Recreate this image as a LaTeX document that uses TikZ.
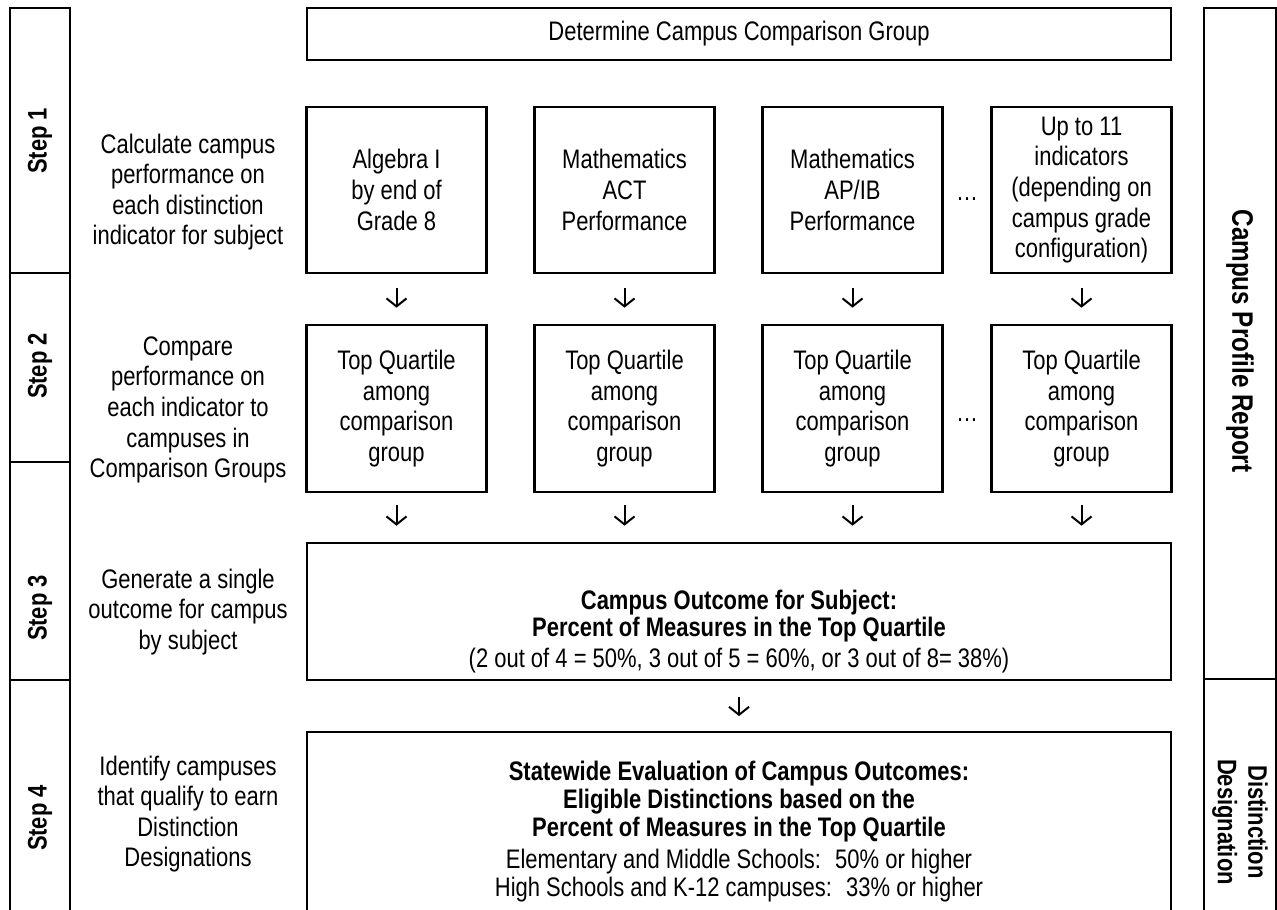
\documentclass[tikz,border=0pt]{standalone}
\usepackage{fontspec}
\setmainfont{Liberation Sans}[FakeStretch=0.82]
\usetikzlibrary{arrows.meta}

\begin{document}
\fontsize{13.4pt}{15.3pt}\selectfont
\begin{tikzpicture}[x=0.5pt,y=-0.5pt,
    box/.style={draw,line width=1.3pt,align=center,inner sep=0pt},
    desc/.style={align=center},
    steplbl/.style={font=\bfseries,rotate=90},
    sidelbl/.style={font=\bfseries,rotate=-90,align=center},
    down/.style={-{Straight Barb[length=4pt,width=10pt]},line width=1pt}]
    \clip (0,0) rectangle (1277,909);

    % columnas laterales
    \draw[line width=1.3pt] (10,8) rectangle (70,960) (10,273) -- (70,273) (10,462) -- (70,462) (10,680) -- (70,680);
    \draw[line width=1.3pt] (1204,8) rectangle (1276,960) (1204,679) -- (1276,679);
    \foreach \y/\n in {141/1,366/2,608/3,818/4}
        \node[steplbl] (step\n) at (40,\y) {Step \n};
    \node[sidelbl,font=\fontsize{14.8pt}{16pt}\selectfont\bfseries] (profile) at (1240,341) {Campus Profile Report};
    \node[sidelbl] (designation) at (1240,822) {Distinction\\Designation};

    % descripciones
    \node[desc] (desc1) at (188,192) {Calculate campus\\performance on\\each distinction\\indicator for subject};
    \node[desc] (desc2) at (188,410) {Compare\\performance on\\each indicator to\\campuses in\\Comparison Groups};
    \node[desc] (desc3) at (188,612) {Generate a single\\outcome for campus\\by subject};
    \node[desc] (desc4) at (188,814) {Identify campuses\\that qualify to earn\\Distinction\\Designations};

    % grupo de comparacion
    \node[box,minimum width=432pt,minimum height=26pt] (group) at (739,34) {Determine Campus Comparison Group};

    % indicadores y cuartil superior
    \foreach \cx/\id/\txt in {396.5/a/{Algebra I\\by end of\\Grade 8},624.5/b/{Mathematics\\ACT\\Performance},852.5/c/{Mathematics\\AP/IB\\Performance},1081.5/d/{Up to 11\\indicators\\(depending on\\campus grade\\configuration)}}
    {
        \node[box,minimum width=90pt,minimum height=83pt] (ind\id) at (\cx,190) {\txt};
        \node[box,minimum width=90pt,minimum height=83.5pt] (top\id) at (\cx,408.5) {Top Quartile\\among\\comparison\\group};
        \draw[down,shorten <=7pt,shorten >=8pt] (ind\id) -- (top\id);
    }
    \node[anchor=base] (dots1) at (967,200) {…};
    \node[anchor=base] (dots2) at (967,421) {…};

    % resultado del campus
    \node[box,font=\fontsize{13.4pt}{13.5pt}\selectfont,minimum width=432pt,minimum height=68.5pt] (outcome) at (739,611.5) {\rule{0pt}{30pt}\textbf{Campus Outcome for Subject:}\\\textbf{Percent of Measures in the Top Quartile}\\[2pt](2 out of 4 = 50\%, 3 out of 5 = 60\%, or 3 out of 8= 38\%)};
    \foreach \id in {a,b,c,d}
        \draw[down,shorten <=6pt,shorten >=8pt] (top\id) -- (top\id |- outcome.north);

    % evaluacion estatal
    \node[box,font=\fontsize{13.4pt}{14pt}\selectfont,minimum width=432pt,minimum height=100pt] (eval) at (739,832) {\textbf{Statewide Evaluation of Campus Outcomes:}\\\textbf{Eligible Distinctions based on the}\\\textbf{Percent of Measures in the Top Quartile}\\[2pt]Elementary and Middle Schools:~ 50\% or higher\\High Schools and K-12 campuses:~ 33\% or higher};
    \draw[down,shorten <=8pt,shorten >=7.3pt] (outcome) -- (eval);
\end{tikzpicture}
\end{document}
